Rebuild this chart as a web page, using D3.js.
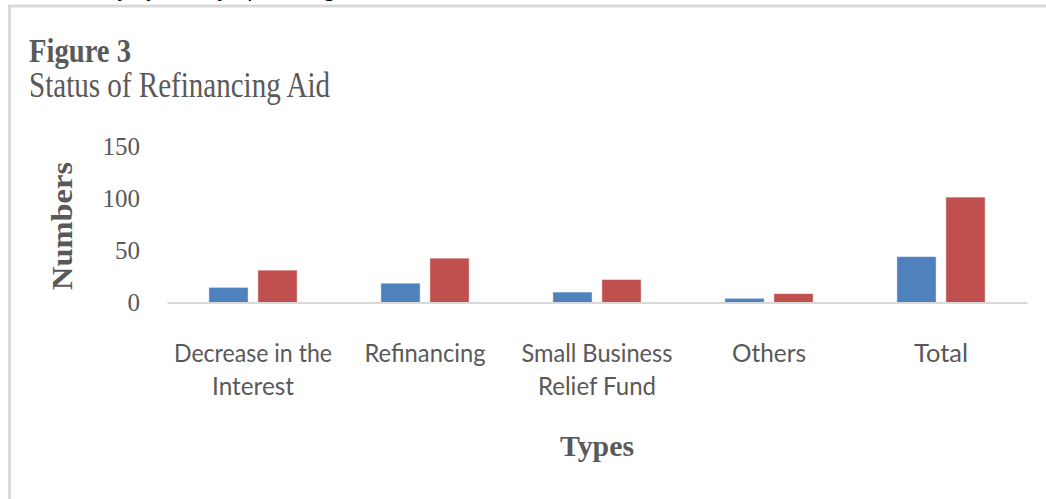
<!DOCTYPE html>
<html>
<head>
<meta charset="utf-8">
<script src="https://cdn.jsdelivr.net/npm/d3@7"></script>
<style>
  html, body { margin: 0; padding: 0; background: #fff; }
  svg { display: block; }
</style>
</head>
<body>
<svg id="chart" width="1046" height="499"></svg>
<script>
// ---- data ----
const categories = ["Decrease in the\nInterest", "Refinancing", "Small Business\nRelief Fund", "Others", "Total"];
const seriesBlue = [14.5, 18.5, 10, 4, 44];
const seriesRed = [31, 42.5, 22, 8.5, 101];
const yTickValues = [0, 50, 100, 150];
const titleText = "Figure 3";
const subtitleText = "Status of Refinancing Aid";
const yAxisTitle = "Numbers";
const xAxisTitle = "Types";
const topClippedText = "Summary by Survey of Findings";

// ---- layout / style ----
const colors = ["#4f81bd", "#c0504d"];
const textGray = "#595959";
const labelWidths = {
  "Decrease in the": 158, "Interest": 82, "Refinancing": 121,
  "Small Business": 151, "Relief Fund": 118, "Others": 74, "Total": 54
};

const svg = d3.select("#chart");

// frame
svg.append("path")
  .attr("d", "M9.5,499 V6 H1046")
  .attr("fill", "none")
  .attr("stroke", "#d9d9d9")
  .attr("stroke-width", 3);

// clipped text above frame (only descenders visible, as in the reference)
svg.append("text")
  .attr("x", 40).attr("y", -4)
  .attr("font-family", "Liberation Serif")
  .attr("font-style", "italic")
  .attr("font-size", 24)
  .attr("fill", "#000")
  .text(topClippedText);

// titles
svg.append("text")
  .attr("x", 29).attr("y", 61.5)
  .attr("font-family", "Liberation Serif")
  .attr("font-weight", "bold")
  .attr("font-size", 34)
  .attr("fill", textGray)
  .attr("textLength", 102)
  .attr("lengthAdjust", "spacingAndGlyphs")
  .text(titleText);

svg.append("text")
  .attr("x", 29).attr("y", 96.5)
  .attr("font-family", "Liberation Serif")
  .attr("font-size", 35)
  .attr("fill", textGray)
  .attr("textLength", 301)
  .attr("lengthAdjust", "spacingAndGlyphs")
  .text(subtitleText);

// scales
const y = d3.scaleLinear().domain([0, 150]).range([302.5, 146]);
const x0 = d3.scaleBand().domain(categories).range([167, 1027])
  .paddingInner(0.487).paddingOuter(0.2435);
const x1 = d3.scaleBand().domain([0, 1]).range([0, x0.bandwidth()]).paddingInner(0.2);

// y axis
const yAxis = svg.append("g")
  .attr("transform", "translate(167,0)")
  .call(d3.axisLeft(y).tickValues(yTickValues).tickSize(0).tickPadding(27));
yAxis.select(".domain").remove();
yAxis.selectAll("text")
  .attr("font-family", "Liberation Serif")
  .attr("font-size", 25)
  .attr("fill", textGray);

// bars
const groups = svg.append("g").selectAll("g")
  .data(categories.map((c, i) => ({ c, vals: [seriesBlue[i], seriesRed[i]] })))
  .join("g")
  .attr("transform", d => `translate(${x0(d.c)},0)`);
groups.selectAll("rect")
  .data(d => d.vals.map((v, k) => ({ v, k })))
  .join("rect")
  .attr("x", d => x1(d.k))
  .attr("width", x1.bandwidth())
  .attr("y", d => y(d.v))
  .attr("height", d => y(0) - y(d.v))
  .attr("fill", d => colors[d.k])
  .attr("stroke", "rgba(255,255,255,0.45)")
  .attr("stroke-width", 1);

// x axis
const xAxis = svg.append("g")
  .attr("transform", `translate(0,${y(0)})`)
  .call(d3.axisBottom(x0).tickSize(0).tickSizeOuter(0).tickFormat(""));
xAxis.select(".domain")
  .attr("stroke", "#d9d9d9")
  .attr("stroke-width", 2);
xAxis.selectAll(".tick").each(function(d) {
  const g = d3.select(this);
  g.select("text").remove();
  const lines = d.split("\n");
  const t = g.append("text")
    .attr("text-anchor", "middle")
    .attr("font-family", "Lato")
    .attr("font-size", 25)
    .attr("fill", textGray);
  lines.forEach((ln, i) => {
    t.append("tspan")
      .attr("x", 0)
      .attr("y", 59 + i * 33)
      .attr("textLength", labelWidths[ln])
      .attr("lengthAdjust", "spacingAndGlyphs")
      .text(ln);
  });
});

// axis titles
svg.append("text")
  .attr("transform", "translate(72,226) rotate(-90)")
  .attr("text-anchor", "middle")
  .attr("font-family", "Liberation Serif")
  .attr("font-weight", "bold")
  .attr("font-size", 29)
  .attr("fill", textGray)
  .attr("textLength", 128)
  .attr("lengthAdjust", "spacingAndGlyphs")
  .text(yAxisTitle);

svg.append("text")
  .attr("x", 597).attr("y", 456)
  .attr("text-anchor", "middle")
  .attr("font-family", "Liberation Serif")
  .attr("font-weight", "bold")
  .attr("font-size", 30)
  .attr("fill", textGray)
  .attr("textLength", 74)
  .attr("lengthAdjust", "spacingAndGlyphs")
  .text(xAxisTitle);
</script>
</body>
</html>
